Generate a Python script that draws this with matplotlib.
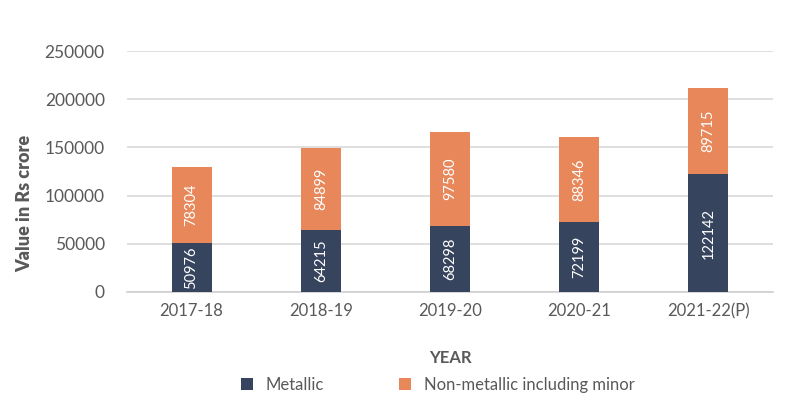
import matplotlib.pyplot as plt
import numpy as np

years = ["2017-18", "2018-19", "2019-20", "2020-21", "2021-22(P)"]
metallic = [50976, 64215, 68298, 72199, 122142]
non_metallic = [78304, 84899, 97580, 88346, 89715]
yticks = [0, 50000, 100000, 150000, 200000, 250000]

plt.rcParams['font.family'] = ['Lato', 'DejaVu Sans']
fig = plt.figure(figsize=(7.87, 4.05), dpi=100)
ax = fig.add_axes([127/787, 1-292/405, 646/787, 241/405])

navy = "#37445E"
orange = "#E8875A"
grey = "#595959"
x = np.arange(len(years))
w = 0.31
b1 = ax.bar(x, metallic, w, color=navy, label="Metallic", zorder=3)
b2 = ax.bar(x, non_metallic, w, bottom=metallic, color=orange,
            label="Non-metallic including minor", zorder=3)
for i in range(len(years)):
    ax.text(x[i], metallic[i]/2, str(metallic[i]), rotation=90, ha='center', va='center',
            color='white', fontsize=10.5, zorder=4)
    ax.text(x[i], metallic[i] + non_metallic[i]/2, str(non_metallic[i]), rotation=90,
            ha='center', va='center', color='white', fontsize=10.5, zorder=4)

ax.set_xlim(-0.5, len(years)-0.5)
ax.set_ylim(0, 250000)
ax.set_yticks(yticks)
ax.set_yticklabels([str(v) for v in yticks], fontsize=12.5, color=grey)
ax.set_xticks(x)
ax.set_xticklabels(years, fontsize=12, color=grey)
ax.tick_params(length=0, pad=8)
ax.tick_params(axis='y', pad=16)
ax.grid(axis='y', color='#d9d9d9', linewidth=1.2, zorder=0)
for s in ['top', 'right', 'left']:
    ax.spines[s].set_visible(False)
ax.spines['bottom'].set_color('#d0d0d0')
ax.spines['bottom'].set_linewidth(1.2)
fig.text(25/787, 1-203/405, "Value in Rs crore", rotation=90, ha='center', va='center',
         fontsize=13, fontweight='heavy', color=grey)
ax.set_xlabel("YEAR", fontsize=12, fontweight='bold', color=grey, labelpad=22)
leg = fig.legend(handles=[b1, b2], loc='center', bbox_to_anchor=(438/787, 1-385/405), ncol=2,
                 frameon=False, fontsize=12, handlelength=0.7, handleheight=0.7,
                 columnspacing=4.5, labelcolor=grey)
fig.savefig("out.png", dpi=100)
